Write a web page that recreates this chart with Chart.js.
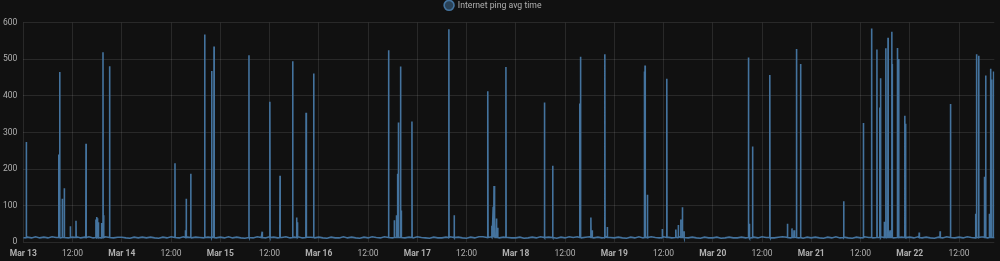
<!DOCTYPE html>
<html>
<head>
<meta charset="utf-8">
<script src="https://cdn.jsdelivr.net/npm/chart.js@4/dist/chart.umd.min.js"></script>
<style>
  html, body { margin: 0; padding: 0; background: #111111; }
  #wrap { width: 1000px; height: 261px; }
</style>
</head>
<body>
<div id="wrap"><canvas id="myChart"></canvas></div>
<script>
// hours since Mar 13 00:00
const dayNames = ['Mar 13', 'Mar 14', 'Mar 15', 'Mar 16', 'Mar 17', 'Mar 18', 'Mar 19', 'Mar 20', 'Mar 21', 'Mar 22'];

// baseline ping (ms), one reading per hour from hour 0
const baseValues = [
  12, 14, 12, 15, 12, 14, 12, 15, 13, 12, 14, 12, 14, 15, 12, 14, 15, 12, 14, 12, 15, 13, 12, 14,
  14, 12, 11, 14, 12, 14, 12, 14, 12, 11, 14, 12, 15, 13, 12, 15, 14, 12, 14, 13, 12, 14, 15, 12,
  14, 12, 15, 12, 14, 12, 11, 14, 12, 15, 13, 12, 15, 14, 12, 13, 15, 12, 14, 15, 12, 14, 14, 12,
  14, 12, 11, 14, 12, 12, 15, 12, 14, 12, 11, 14, 12, 15, 13, 12, 15, 14, 12, 14, 13, 12, 14, 12,
  15, 13, 12, 11, 14, 12, 12, 14, 15, 12, 14, 12, 11, 14, 12, 15, 15, 13, 15, 14, 12, 14, 13, 12,
  12, 14, 11, 12, 14, 12, 15, 12, 14, 12, 11, 14, 12, 15, 13, 15, 12, 14, 15, 12, 14, 12, 15, 13,
  12, 14, 12, 11, 14, 12, 15, 12, 14, 15, 13, 12, 15, 14, 12, 13, 15, 14, 12, 14, 12, 11, 14, 12,
  12, 14, 11, 12, 14, 12, 12, 14, 12, 11, 14, 12, 15, 13, 12, 12, 14, 15, 14, 12, 14, 12, 11, 14,
  12, 14, 12, 11, 14, 12, 15, 12, 14, 12, 11, 14, 12, 15, 13, 12, 14, 15, 14, 13, 12, 15, 14, 12,
  14, 12, 15, 12, 14, 12, 11, 14, 12, 15, 13, 12, 14, 12, 15, 13, 12, 14, 15, 12, 14, 12, 15, 13
];

// spikes: hour and ping (ms)
const spikeHours = [
  0.73, 8.62, 8.87, 9.5, 9.99, 11.46, 12.84, 15.28, 17.7, 17.9, 18.1, 18.3, 19.1, 19.42, 19.6, 21.05,
  36.96, 39.5, 39.7, 40.8, 44.2, 45.9, 46.47, 54.99, 58.2, 60.1, 62.55, 65.64, 66.6, 66.8, 68.9, 70.76,
  89.03, 90.4, 90.9, 91.2, 91.4, 91.9, 92.1, 94.7, 103.7, 105.0, 113.2, 114.2, 114.5, 114.7, 114.9, 115.3, 115.6, 117.6,
  127.0, 129.0, 135.6, 135.8, 138.3, 138.6, 141.7, 142.3, 151.3, 151.5, 152.1, 155.7, 156.8,
  159.0, 159.6, 160.2, 160.6, 161.0, 176.7, 176.9, 177.7, 181.9, 186.2, 187.3, 187.8, 188.4, 189.4,
  199.9, 204.7, 206.7, 208.0, 208.7, 208.9, 209.8, 210.2, 210.7, 211.2, 211.6, 211.7, 213.0, 213.3, 214.8, 215.0,
  218.3, 223.4, 225.9, 232.1, 232.3, 232.8, 234.2, 234.5, 235.4, 235.7, 235.9, 236.4
];
const spikeValues = [
  274, 240, 465, 119, 148, 44, 59, 269, 62, 69, 66, 55, 53, 519, 74, 481,
  216, 33, 119, 187, 568, 468, 535, 511, 29, 384, 182, 495, 68, 55, 354, 461,
  525, 60, 74, 187, 327, 480, 87, 330, 582, 74, 413, 45, 97, 154, 60, 65, 40, 479,
  382, 209, 379, 507, 68, 33, 514, 42, 467, 483, 130, 36, 447,
  35, 47, 62, 96, 30, 505, 51, 262, 457, 51, 38, 33, 528, 487,
  112, 326, 584, 527, 368, 448, 56, 530, 559, 33, 575, 487, 531, 501, 346, 324,
  27, 30, 378, 78, 514, 510, 179, 456, 78, 474, 445, 467
];

const lineColor = '#44739e';
const gridColor = 'rgba(255,255,255,0.1)';
const textColor = '#b0b0b0';

// merge baseline readings and spikes into one time series
let points = baseValues.map((v, i) => ({x: i, y: v}));
spikeHours.forEach((h, i) => {
  points.push({x: h - 0.05, y: 13});
  points.push({x: h, y: spikeValues[i]});
  points.push({x: h + 0.05, y: 13});
});
points.sort((a, b) => a.x - b.x);

function tickLabel(value) {
  if (value % 24 === 0) return dayNames[value / 24];
  return '12:00';
}

// move legend to where the original card has it
const legendShift = {
  id: 'legendShift',
  afterLayout(chart) {
    chart.legend.left -= 4;
    chart.legend.right -= 4;
    chart.legend.top -= 3;
    chart.legend.bottom -= 3;
  }
};

var ctx = document.getElementById('myChart').getContext('2d');
var chart = new Chart(ctx, {
  type: 'line',
  data: {
    datasets: [{
      label: 'Internet ping avg time',
      data: points,
      borderColor: lineColor,
      backgroundColor: 'rgba(68,115,158,0.5)',
      borderWidth: 1.6,
      pointRadius: 0,
      tension: 0,
      fill: false
    }]
  },
  options: {
    responsive: true,
    maintainAspectRatio: false,
    animation: false,
    parsing: false,
    layout: { padding: { top: 0, left: 0, right: 5.7, bottom: 0 } },
    plugins: {
      legend: {
        labels: {
          usePointStyle: true,
          pointStyle: 'circle',
          boxHeight: 7,
          padding: 4,
          color: textColor,
          font: { family: 'Roboto', size: 8.7 }
        }
      },
      tooltip: { enabled: false }
    },
    scales: {
      x: {
        type: 'linear',
        min: 0,
        max: 236.6,
        grid: { color: gridColor, drawTicks: false },
        border: { display: false },
        afterFit: (scale) => { scale.height = 18.7; },
        ticks: {
          stepSize: 12,
          includeBounds: false,
          autoSkip: false,
          maxRotation: 0,
          padding: 6,
          color: textColor,
          font: (c) => ({ family: 'Roboto', size: 8.5, weight: (c.tick && c.tick.value % 24 === 0) ? 'bold' : 'normal' }),
          callback: tickLabel
        }
      },
      y: {
        min: 0,
        max: 600,
        grid: { color: gridColor, drawTicks: false },
        border: { display: false },
        afterFit: (scale) => { scale.width = 23.3; },
        ticks: {
          stepSize: 100,
          padding: 6,
          color: textColor,
          font: { family: 'Roboto', size: 8.5 }
        }
      }
    }
  },
  plugins: [legendShift]
});
</script>
</body>
</html>
